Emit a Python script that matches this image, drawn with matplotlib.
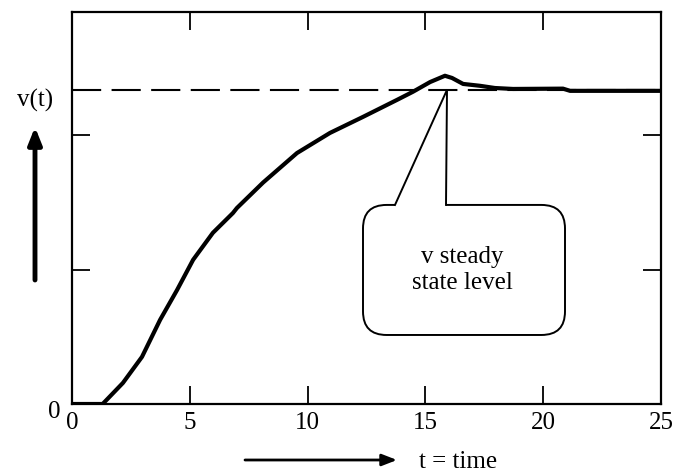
import matplotlib
matplotlib.use('Agg')
import matplotlib.pyplot as plt
import matplotlib.transforms as mtransforms
from matplotlib.patches import FancyBboxPatch, Polygon

plt.rcParams['font.family'] = ['Liberation Serif', 'DejaVu Serif']

# step response (v normalised to steady state = 1)
t = [0, 1.3, 2.16, 2.97, 3.74, 4.46, 5.14, 5.98, 6.83, 7.0, 8.11, 9.55,
     10.95, 12.35, 13.79, 14.47, 15.2, 15.83, 16.13, 16.6, 17.32, 17.95,
     18.72, 20.84, 21.14, 25]
v = [0, 0, 0.067, 0.15, 0.268, 0.363, 0.459, 0.545, 0.608, 0.624, 0.705,
     0.799, 0.863, 0.914, 0.968, 0.994, 1.025, 1.045, 1.038, 1.019, 1.013,
     1.006, 1.003, 1.004, 0.997, 0.997]

v_steady = 1.0
x_ticks = [0, 5, 10, 15, 20, 25]
y_ticks = [0, 0.427, 0.857]
y_tick_labels = ['0', '', '']
callout_text = 'v steady\nstate level'

W, H = 679, 475
fig = plt.figure(figsize=(W / 100, H / 100), dpi=100)
ax = fig.add_axes([72 / W, 1 - 404 / H, (661 - 72) / W, (404 - 12) / H])

ax.plot(t, v, color='black', lw=3, solid_capstyle='butt',
        solid_joinstyle='round', zorder=4)
ax.plot([0, 25], [v_steady, v_steady], color='black', lw=1.5,
        dashes=(14, 5), zorder=3)

ax.set_xlim(0, 25)
ax.set_ylim(0, 1.248)
ax.set_xticks(x_ticks)
ax.set_yticks(y_ticks)
ax.set_yticklabels(y_tick_labels)
ax.tick_params(direction='in', length=13, width=1.3, top=True, right=True,
               labelsize=18, pad=6, colors='black')
ax.tick_params(axis='y', pad=8)
for lab in ax.get_yticklabels():
    lab.set_transform(lab.get_transform() +
                      mtransforms.ScaledTranslation(0, -6 / 100, fig.dpi_scale_trans))
for s in ax.spines.values():
    s.set_linewidth(1.6)

# callout box with its pointer
px = lambda x: (x - 72) / 23.56
py = lambda y: (404 - y) / 314.0
bx0, bx1, by0, by1 = px(363), px(565), py(335), py(205)
box = FancyBboxPatch((bx0, by0), bx1 - bx0, by1 - by0,
                     boxstyle='round,pad=0,rounding_size=1.0',
                     mutation_aspect=0.075, fc='white', ec='black',
                     lw=1.4, zorder=5)
ax.add_patch(box)
tip = (px(447), v_steady)
left_base = (px(395), py(205))
right_base = (px(446), py(205))
ax.add_patch(Polygon([left_base, tip, right_base,
                      (right_base[0], py(208)), (left_base[0], py(208))],
                     closed=True, fc='white', ec='none', zorder=6))
ax.plot([left_base[0], tip[0], right_base[0]],
        [left_base[1], tip[1], right_base[1]], color='black', lw=1.4, zorder=7)
ax.text(px(462), py(270), callout_text, ha='center', va='center',
        fontsize=18, linespacing=1.2, zorder=8)

# axis captions with arrows
fig.text(35 / W, 1 - 100 / H, 'v(t)', ha='center', va='center', fontsize=18)
fig.text(419 / W, 1 - 462 / H, 't = time', ha='left', va='center', fontsize=18)
ax.annotate('', xy=(35 / W, 1 - 127 / H), xytext=(35 / W, 1 - 280 / H),
            xycoords='figure fraction', textcoords='figure fraction',
            arrowprops=dict(arrowstyle='-|>,head_length=1.0,head_width=0.4',
                            lw=3.5, color='black', shrinkA=0, shrinkB=0))
ax.annotate('', xy=(397 / W, 1 - 460 / H), xytext=(245 / W, 1 - 460 / H),
            xycoords='figure fraction', textcoords='figure fraction',
            arrowprops=dict(arrowstyle='-|>,head_length=0.9,head_width=0.35',
                            lw=2, color='black', shrinkA=0, shrinkB=0))

fig.savefig('out.png', dpi=100)
